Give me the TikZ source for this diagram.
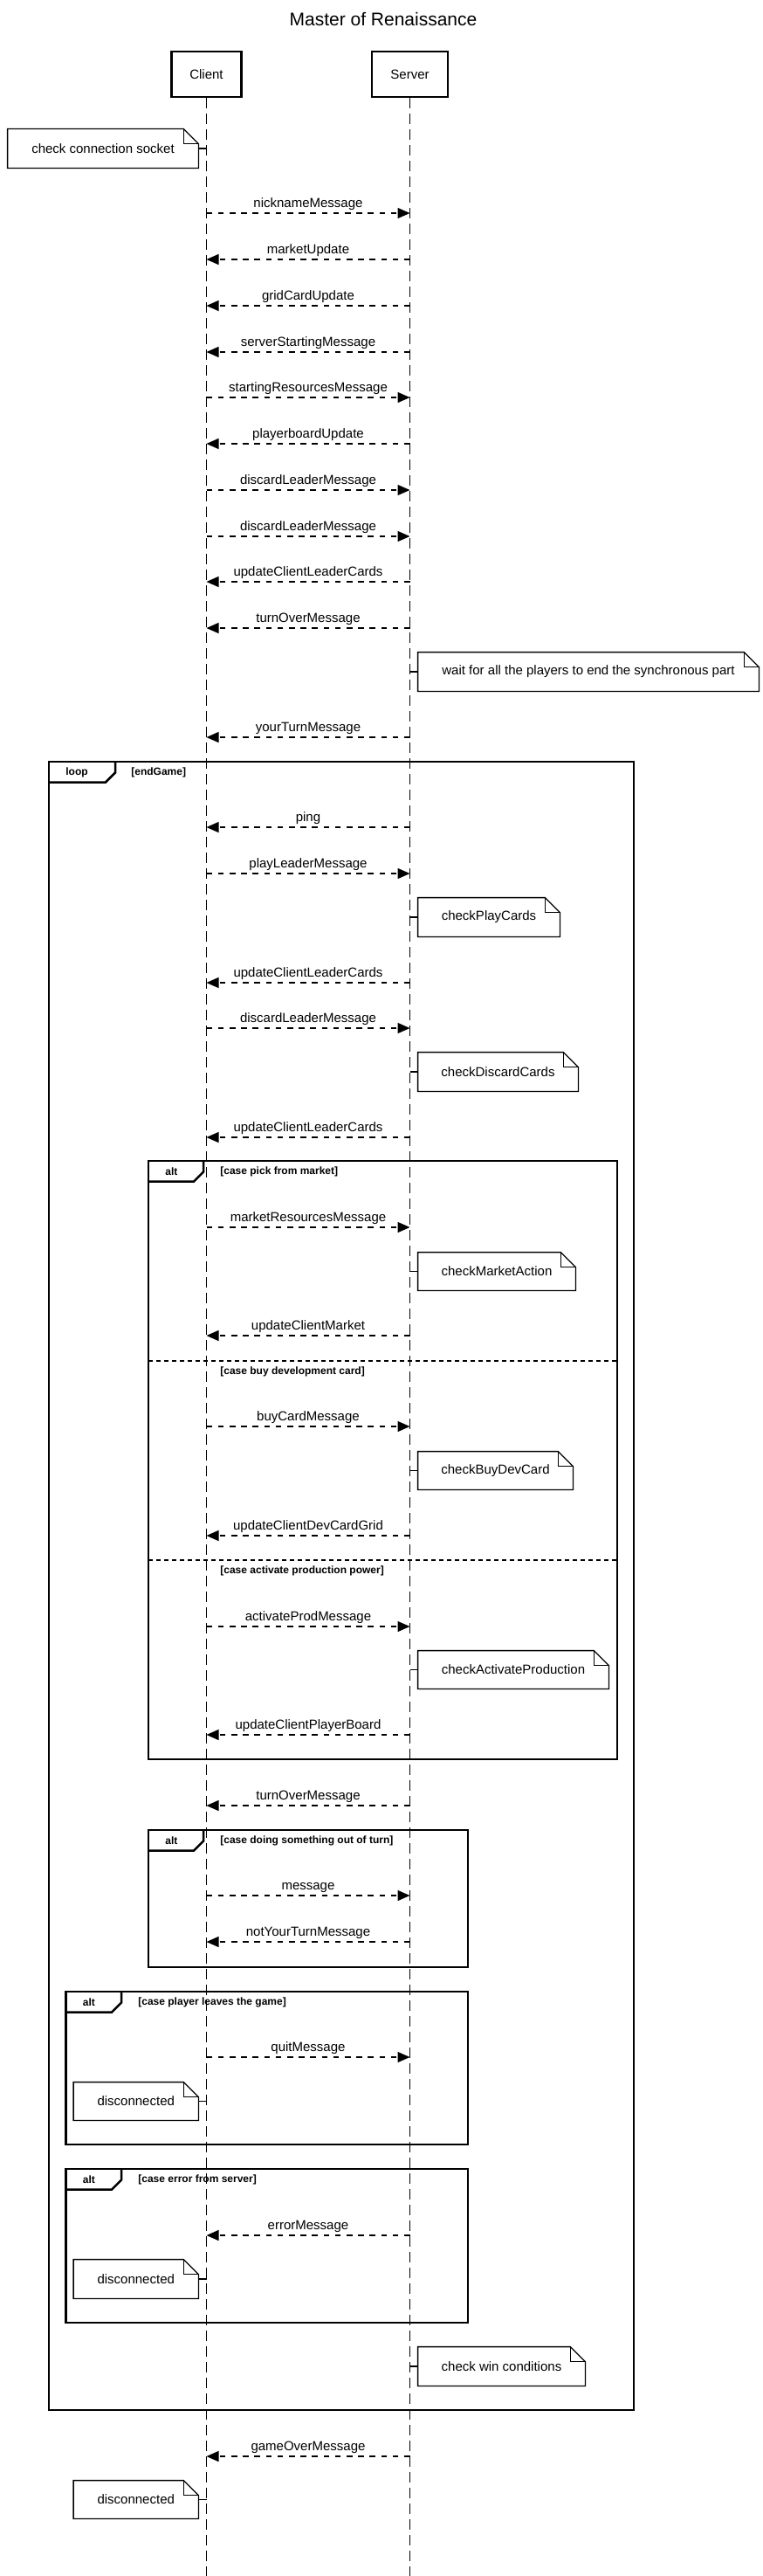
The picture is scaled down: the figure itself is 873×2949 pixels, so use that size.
\documentclass[tikz,border=0pt]{standalone}
\usepackage{fontspec}
\setmainfont{Liberation Sans}
\usetikzlibrary{arrows.meta}
\newcommand\msgright[3]{%
  \coordinate (#1a) at (236.5,#2);
  \coordinate (#1b) at (469.5,#2);
  \draw[msgline] (#1a) -- node[msglabel] (#1t) {#3} (#1b);}
\newcommand\msgleft[3]{%
  \coordinate (#1a) at (236.5,#2);
  \coordinate (#1b) at (469.5,#2);
  \draw[msgline] (#1b) -- node[msglabel] (#1t) {#3} (#1a);}
% #1 name, #2 x1, #3 y1, #4 x2, #5 y2, #6 text
\newcommand\notebody[6]{%
  \node[notetext, minimum width={(#4-#2)*0.5pt}, minimum height={(#5-#3)*0.5pt}] (#1) at ({(#2+#4)/2},{(#3+#5)/2}) {#6};
  \draw[noteborder] (#1.north west) -- ([xshift=-8.5pt]#1.north east) -- ([yshift=-8.5pt]#1.north east) -- (#1.south east) -- (#1.south west) -- cycle;
  \draw[noteborder] ([xshift=-8.5pt]#1.north east) -- ([xshift=-8.5pt,yshift=-8.5pt]#1.north east) -- ([yshift=-8.5pt]#1.north east);}
\newcommand\leftnote[6]{\notebody{#1}{#2}{#3}{#4}{#5}{#6}\draw[notelink] (#1.east) -- (#1.east -| client);}
\newcommand\rightnote[6]{\notebody{#1}{#2}{#3}{#4}{#5}{#6}\draw[notelink] (#1.west -| server) -- (#1.west);}
% #1 name, #2 x1, #3 y1, #4 x2, #5 y2, #6 tab width, #7 keyword, #8 guard x offset, #9 guard
\newcommand\fragment[9]{%
  \draw[frameline] (#2,#3) rectangle (#4,#5);
  \draw[frameline] (#2,#3+23.5) -- (#2+#6-11,#3+23.5) -- (#2+#6,#3+12.5) -- (#2+#6,#3);
  \node[fragtext] (#1k) at (#2+19,#3+12.5) {#7};
  \node[fragtext] (#1g) at (#2+#8,#3+12.5) {#9};}
\begin{document}
\begin{tikzpicture}[x=0.5pt,y=-0.5pt,
  participant/.style={draw, line width=1.35pt, minimum height=26pt, inner sep=0pt, font=\fontsize{7.5pt}{9pt}\selectfont},
  lifeline/.style={line width=0.7pt, dash pattern=on 6pt off 3pt},
  msgline/.style={line width=0.65pt, dash pattern=on 3.3pt off 3.3pt, -{Triangle[length=7pt,width=6pt]}},
  msglabel/.style={anchor=base, yshift=3.5pt, inner sep=0pt, font=\fontsize{7.5pt}{9pt}\selectfont},
  notetext/.style={inner sep=0pt, font=\fontsize{7.5pt}{9pt}\selectfont},
  noteborder/.style={line width=0.65pt},
  notelink/.style={line width=0.65pt},
  frameline/.style={line width=1.25pt},
  fragtext/.style={anchor=west, inner sep=0pt, font=\bfseries\fontsize{6pt}{7pt}\selectfont},
  sepline/.style={line width=1pt, dash pattern=on 2.25pt off 2.25pt},
  titletext/.style={anchor=base, inner sep=0pt, font=\fontsize{10.5pt}{12pt}\selectfont},
]
\useasboundingbox (0,0) rectangle (873,2949);
\fill[white] (0,0) rectangle (873,2949);
\node[titletext] (title) at (439,29.3) {Master of Renaissance};
\node[participant, minimum width=40pt] (client) at (236.5,85) {Client};
\node[participant, minimum width=43.5pt] (server) at (469.5,85) {Server};
\coordinate (clientend) at (236.5,2949);
\coordinate (serverend) at (469.5,2949);
\draw[lifeline] (client.south) -- (clientend);
\draw[lifeline] (server.south) -- (serverend);

\leftnote{n0}{9}{148}{227}{192}{check connection socket}
\msgright{m1}{244}{nicknameMessage}
\msgleft{m2}{297}{marketUpdate}
\msgleft{m3}{350}{gridCardUpdate}
\msgleft{m4}{403}{serverStartingMessage}
\msgright{m5}{455}{startingResourcesMessage}
\msgleft{m6}{508}{playerboardUpdate}
\msgright{m7}{561}{discardLeaderMessage}
\msgright{m8}{614}{discardLeaderMessage}
\msgleft{m9}{666}{updateClientLeaderCards}
\msgleft{m10}{719}{turnOverMessage}
\rightnote{n1}{479}{747}{869}{791}{wait for all the players to end the synchronous part}
\msgleft{m11}{844}{yourTurnMessage}

\fragment{loop}{56}{872}{726}{2759}{76}{loop}{94}{[endGame]}
\msgleft{m12}{947}{ping}
\msgright{m13}{1000}{playLeaderMessage}
\rightnote{n2}{479}{1028}{641}{1072}{checkPlayCards}
\msgleft{m14}{1125}{updateClientLeaderCards}
\msgright{m15}{1177}{discardLeaderMessage}
\rightnote{n3}{479}{1205}{662}{1249}{checkDiscardCards}
\msgleft{m16}{1302}{updateClientLeaderCards}

\fragment{altA}{170}{1329}{707}{2014}{63}{alt}{82}{[case pick from market]}
\msgright{m17}{1405}{marketResourcesMessage}
\rightnote{n4}{479}{1434}{659}{1477}{checkMarketAction}
\msgleft{m18}{1529}{updateClientMarket}
\coordinate (sepAa) at (170,1558);
\coordinate (sepAb) at (707,1558);
\draw[sepline] (sepAa) -- (sepAb);
\node[fragtext] (sepAg) at (252,1570) {[case buy development card]};
\msgright{m19}{1633}{buyCardMessage}
\rightnote{n5}{479}{1662}{656}{1705}{checkBuyDevCard}
\msgleft{m20}{1758}{updateClientDevCardGrid}
\coordinate (sepBa) at (170,1786);
\coordinate (sepBb) at (707,1786);
\draw[sepline] (sepBa) -- (sepBb);
\node[fragtext] (sepBg) at (252,1798) {[case activate production power]};
\msgright{m21}{1862}{activateProdMessage}
\rightnote{n6}{479}{1890}{697}{1933}{checkActivateProduction}
\msgleft{m22}{1986}{updateClientPlayerBoard}

\msgleft{m23}{2067}{turnOverMessage}
\fragment{altB}{170}{2095}{536}{2252}{63}{alt}{82}{[case doing something out of turn]}
\msgright{m24}{2170}{message}
\msgleft{m25}{2223}{notYourTurnMessage}

\fragment{altC}{75.5}{2280}{536}{2455}{63.5}{alt}{82.5}{[case player leaves the game]}
\msgright{m26}{2355}{quitMessage}
\leftnote{n7}{84.5}{2384}{227}{2427}{disconnected}

\fragment{altD}{75.5}{2483}{536}{2659}{63.5}{alt}{82.5}{[case error from server]}
\msgleft{m27}{2559}{errorMessage}
\leftnote{n8}{84.5}{2587}{227}{2631}{disconnected}

\rightnote{n9}{479}{2687}{670}{2731}{check win conditions}

\msgleft{m28}{2812}{gameOverMessage}
\leftnote{n10}{84.5}{2840}{227}{2883}{disconnected}
\end{tikzpicture}
\end{document}
